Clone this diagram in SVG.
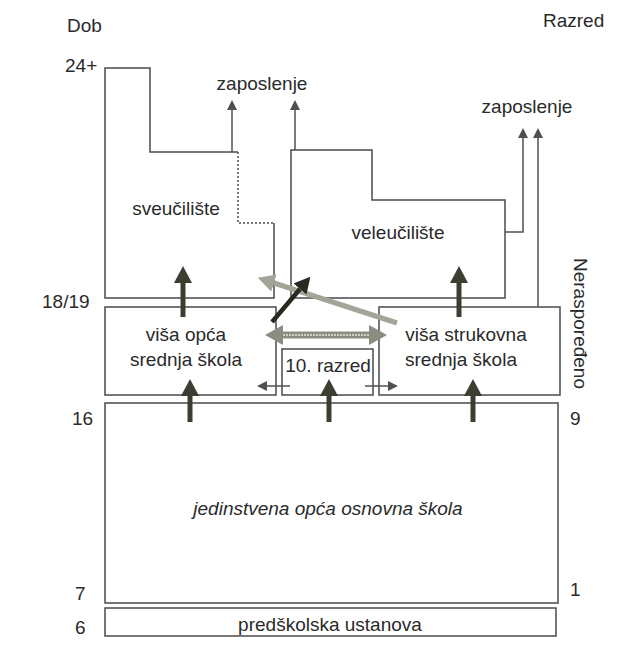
<svg xmlns="http://www.w3.org/2000/svg" width="627" height="646" viewBox="0 0 627 646">
<style>
text{font-family:"Liberation Sans",Arial,sans-serif;font-size:19px;fill:#2a2a2a}
.c{text-anchor:middle}
.box{fill:none;stroke:#4a4a4a;stroke-width:1.5}
.thin{stroke:#505050;stroke-width:1.5;fill:none}
.dark{stroke:#3b3f31;stroke-width:5;fill:none}
</style>
<defs>
<marker id="mDark" markerUnits="userSpaceOnUse" viewBox="0 0 17 18" markerWidth="17" markerHeight="18" refX="1" refY="9" orient="auto"><path d="M0,0 L17,9 L0,18 z" fill="#3b3f31"/></marker>
<marker id="mThin" markerUnits="userSpaceOnUse" viewBox="0 0 10 10" markerWidth="10" markerHeight="10" refX="0" refY="5" orient="auto"><path d="M0,0 L10,5 L0,10 z" fill="#505050"/></marker>
<marker id="mGrey" markerUnits="userSpaceOnUse" viewBox="0 0 17 18" markerWidth="17" markerHeight="18" refX="0" refY="9" orient="auto"><path d="M0,0 L17,9 L0,18 z" fill="#a3a598"/></marker>
<marker id="mGreen" markerUnits="userSpaceOnUse" viewBox="0 0 18 20" markerWidth="18" markerHeight="20" refX="0" refY="10" orient="auto-start-reverse"><path d="M0,0 L18,10 L0,20 z" fill="#8b8d80"/></marker>
<marker id="mBlack" markerUnits="userSpaceOnUse" viewBox="0 0 16 17" markerWidth="16" markerHeight="17" refX="0" refY="8.5" orient="auto"><path d="M0,0 L16,8.5 L0,17 z" fill="#262a20"/></marker>
</defs>
<rect width="627" height="646" fill="#fff"/>
<g id="axis-labels">
<text x="67" y="32">Dob</text>
<text x="65" y="72">24+</text>
<text x="42" y="308">18/19</text>
<text x="72" y="425">16</text>
<text x="75" y="600">7</text>
<text x="75" y="634">6</text>
<text x="543" y="27">Razred</text>
<text x="570" y="425">9</text>
<text x="570" y="596">1</text>
<text transform="translate(574,258) rotate(90)">Neraspoređeno</text>
</g>
<g id="sveuciliste">
<path class="box" d="M238,152 L150,152 L150,68 L105,68 L105,298 L274,298 L274,223"/>
<path class="box" d="M238,152 L238,223 L274,223" stroke-dasharray="2,2"/>
<text class="c" x="176" y="215">sveučilište</text>
</g>
<g id="veleuciliste">
<path class="box" d="M291,298 L291,150 L372,150 L372,200 L505,200 L505,298 Z"/>
<text class="c" x="398" y="239">veleučilište</text>
</g>
<g id="visa-opca">
<rect class="box" x="105" y="307" width="171" height="88"/>
<text class="c" x="186" y="341">viša opća</text>
<text class="c" x="186" y="366">srednja škola</text>
</g>
<g id="deseti-razred">
<rect class="box" x="282" y="349" width="91" height="46"/>
<text class="c" x="328" y="372">10. razred</text>
</g>
<g id="visa-strukovna">
<rect class="box" x="379" y="307" width="181" height="88"/>
<text class="c" x="466" y="341">viša strukovna</text>
<text class="c" x="461" y="366">srednja škola</text>
</g>
<g id="osnovna">
<rect class="box" x="105" y="403" width="453" height="200"/>
<text class="c" x="328" y="515" font-style="italic">jedinstvena opća osnovna škola</text>
</g>
<g id="predskolska">
<rect class="box" x="105" y="608" width="451" height="28"/>
<text class="c" x="330" y="631">predškolska ustanova</text>
</g>
<g id="zaposlenje-1"><text class="c" x="262" y="90">zaposlenje</text></g>
<g id="zaposlenje-2"><text class="c" x="527" y="113">zaposlenje</text></g>
<g id="connectors">
<path class="thin" d="M232,152 L232,110" marker-end="url(#mThin)"/>
<path class="thin" d="M295,150 L295,110" marker-end="url(#mThin)"/>
<path class="thin" d="M505,232 L523,232 L523,138" marker-end="url(#mThin)"/>
<path class="thin" d="M538,307 L538,138" marker-end="url(#mThin)"/>
<path class="thin" d="M290,386 L267,386" marker-end="url(#mThin)"/>
<path class="thin" d="M365,386 L388,386" marker-end="url(#mThin)"/>
<path class="dark" d="M183,317 L183,282" marker-end="url(#mDark)"/>
<path class="dark" d="M459,317 L459,282" marker-end="url(#mDark)"/>
<path class="dark" d="M190,422 L190,395" marker-end="url(#mDark)"/>
<path class="dark" d="M329,422 L329,395" marker-end="url(#mDark)"/>
<path class="dark" d="M473,422 L473,395" marker-end="url(#mDark)"/>
<g>
<path d="M283,335 L369,335" stroke="#8b8d80" stroke-width="7" fill="none" marker-start="url(#mGreen)" marker-end="url(#mGreen)"/>
<path d="M283,335 L369,335" stroke="#cfd0c6" stroke-width="2" fill="none" stroke-dasharray="2,1"/>
</g>
<path d="M397,323 L274,283" stroke="#a3a598" stroke-width="5.5" fill="none" marker-end="url(#mGrey)"/>
<path d="M272,322 L300,289" stroke="#262a20" stroke-width="4.5" fill="none" marker-end="url(#mBlack)"/>
</g>
</svg>
